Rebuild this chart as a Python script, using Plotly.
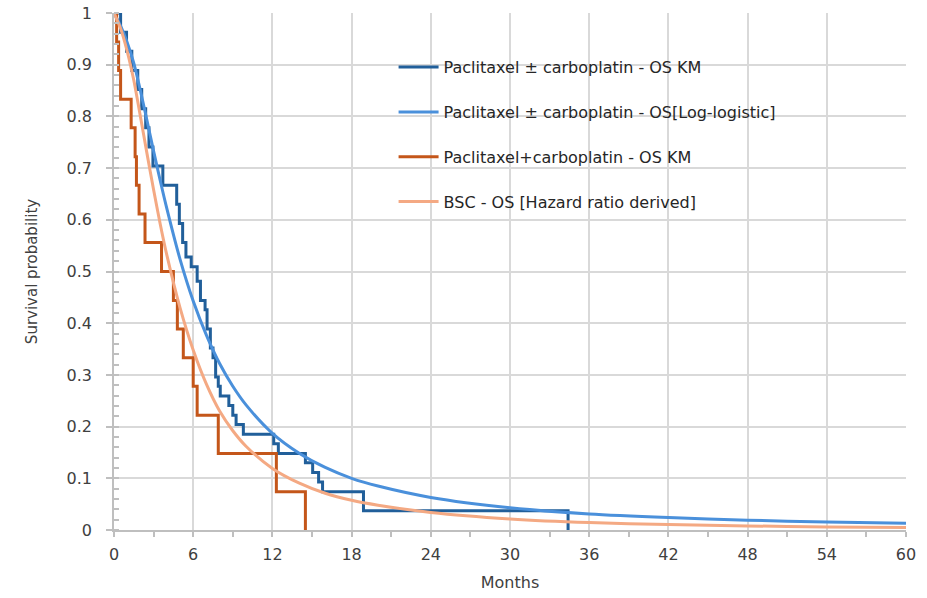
import plotly.graph_objects as go

# ---- data ----
# Kaplan-Meier: Paclitaxel ± carboplatin (step function)
km1_t = [0, 0.5, 0.95, 1.35, 1.8, 2.1, 2.4, 2.65, 2.95, 3.7, 4.75, 4.95, 5.2, 5.45, 5.85, 6.3,
         6.55, 6.9, 7.05, 7.3, 7.5, 7.7, 7.9, 8.05, 8.7, 9.0, 9.25, 9.8, 12.1, 12.45,
         14.5, 15.05, 15.5, 15.8, 18.9, 34.4]
km1_s = [1.0, 0.963, 0.926, 0.889, 0.852, 0.815, 0.778, 0.741, 0.704, 0.667, 0.630, 0.593,
         0.556, 0.528, 0.509, 0.481, 0.444, 0.426, 0.389, 0.352, 0.333, 0.296, 0.278,
         0.259, 0.241, 0.222, 0.204, 0.185, 0.167, 0.148, 0.130, 0.111, 0.093, 0.074,
         0.037, 0.0]

# Log-logistic fit: Paclitaxel ± carboplatin
ll_t = [0, 0.5, 1, 1.5, 2, 2.5, 3, 3.5, 4, 5, 6, 7, 8, 9, 10, 12, 14, 16, 18, 20, 24,
        30, 36, 42, 48, 54, 60]
ll_s = [1.0, 0.975, 0.943, 0.903, 0.850, 0.792, 0.733, 0.676, 0.622, 0.524, 0.443, 0.377,
        0.322, 0.278, 0.242, 0.187, 0.149, 0.121, 0.100, 0.085, 0.063, 0.043, 0.031,
        0.024, 0.019, 0.0155, 0.0129]

# Kaplan-Meier: Paclitaxel+carboplatin
km2_t = [0, 0.2, 0.35, 0.5, 1.3, 1.6, 1.7, 1.9, 2.35, 3.6, 4.5, 4.8, 5.25, 6.0, 6.3, 7.9,
         12.3, 14.5]
km2_s = [1.0, 0.944, 0.889, 0.833, 0.778, 0.722, 0.667, 0.611, 0.556, 0.5, 0.444, 0.389,
         0.333, 0.278, 0.222, 0.148, 0.074, 0.0]

# BSC - hazard ratio derived
bsc_t = [0, 0.5, 1, 1.5, 2, 2.5, 3, 3.5, 4, 5, 6, 7, 8, 9, 10, 12, 14, 16, 18, 20, 24,
         30, 36, 42, 48, 54, 60]
bsc_s = [1.0, 0.970, 0.926, 0.870, 0.800, 0.728, 0.658, 0.592, 0.532, 0.430, 0.348, 0.282,
         0.230, 0.192, 0.162, 0.119, 0.091, 0.071, 0.0575, 0.048, 0.034, 0.0215, 0.0144,
         0.0106, 0.0079, 0.006, 0.0047]

names = ["Paclitaxel ± carboplatin - OS KM",
         "Paclitaxel ± carboplatin - OS[Log-logistic]",
         "Paclitaxel+carboplatin - OS KM",
         "BSC - OS [Hazard ratio derived]"]
x_ticks = list(range(0, 61, 6))
y_ticks = [0, 0.1, 0.2, 0.3, 0.4, 0.5, 0.6, 0.7, 0.8, 0.9, 1]
y_ticklabels = ["0", "0.1", "0.2", "0.3", "0.4", "0.5", "0.6", "0.7", "0.8", "0.9", "1"]

colors = ["#215F9A", "#4A90DB", "#C4561A", "#F4A983"]
FONT = "DejaVu Sans"

fig = go.Figure()
fig.add_trace(go.Scatter(x=km1_t, y=km1_s, mode="lines", name=names[0], legendgroup="a",
                         line=dict(color=colors[0], width=3, shape="hv")))
fig.add_trace(go.Scatter(x=ll_t, y=ll_s, mode="lines", name=names[1], legendgroup="b",
                         line=dict(color=colors[1], width=3, shape="spline", smoothing=0.8)))
fig.add_trace(go.Scatter(x=km2_t, y=km2_s, mode="lines", name=names[2], legendgroup="c",
                         line=dict(color=colors[2], width=3, shape="hv")))
fig.add_trace(go.Scatter(x=bsc_t, y=bsc_s, mode="lines", name=names[3], legendgroup="d",
                         line=dict(color=colors[3], width=3, shape="spline", smoothing=0.8)))

fig.update_layout(
    width=927, height=598,
    margin=dict(l=114, r=21, t=13, b=68, autoexpand=False),
    paper_bgcolor="white", plot_bgcolor="white",
    font=dict(family=FONT, size=15, color="#404040"),
    legend=dict(x=0.353, y=0.928, xanchor="left", yanchor="top",
                bgcolor="rgba(0,0,0,0)", font=dict(size=16, color="#262626"),
                traceorder="grouped", tracegroupgap=21, itemwidth=40),
)
fig.update_xaxes(
    automargin=False, ticklabeloverflow="allow",
    range=[0, 60], tickvals=x_ticks, ticktext=[str(v) for v in x_ticks],
    showgrid=True, gridcolor="#D9D9D9", gridwidth=1.5,
    showline=True, linecolor="#BFBFBF", linewidth=1.5,
    ticks="outside", ticklen=5, tickcolor="#BFBFBF", tickwidth=1.5,
    minor=dict(dtick=3, ticks="outside", ticklen=5, tickcolor="#BFBFBF", tickwidth=1.5,
               showgrid=False),
    tickfont=dict(size=16, color="#404040"), zeroline=False, ticklabelstandoff=4,
    title=dict(text="Months", font=dict(size=16, color="#404040"), standoff=14),
)
fig.update_yaxes(
    automargin=False, ticklabeloverflow="allow",
    range=[0, 1], tickvals=y_ticks, ticktext=y_ticklabels,
    showgrid=True, gridcolor="#D9D9D9", gridwidth=1.5,
    showline=True, linecolor="#BFBFBF", linewidth=1.5,
    ticks="outside", ticklen=6, tickcolor="#BFBFBF", tickwidth=1.5,
    minor=dict(dtick=0.02, ticks="inside", ticklen=5, tickcolor="#BFBFBF", tickwidth=1.5,
               showgrid=False),
    tickfont=dict(size=16, color="#404040"), zeroline=False, ticklabelstandoff=11,
    title=dict(text="Survival probability", font=dict(size=15, color="#404040"), standoff=25),
)

# remove the browser's default 8px body margin so the figure fills the window exactly
fig.write_html("out.html", config={"displayModeBar": False},
               post_script="document.body.style.margin='0px';")
